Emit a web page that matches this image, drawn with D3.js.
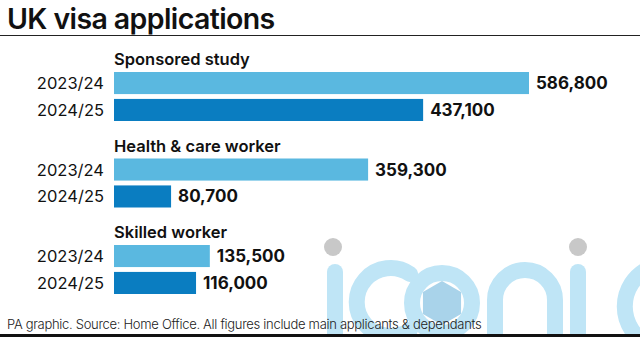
<!DOCTYPE html>
<html><head><meta charset="utf-8">
<script src="https://cdn.jsdelivr.net/npm/d3@7"></script>
<style>html,body{margin:0;padding:0;background:#fff}svg{display:block}</style>
</head><body>
<script>
const categories = ["Sponsored study", "Health & care worker", "Skilled worker"];
const years = ["2023/24", "2024/25"];
const values2023 = [586800, 359300, 135500];
const values2024 = [437100, 80700, 116000];
const title = "UK visa applications";
const footer = "PA graphic. Source: Home Office. All figures include main applicants & dependants";

const W = 640, H = 337;
const svg = d3.select("body").append("svg").attr("width", W).attr("height", H);
const font = "Inter, 'Liberation Sans', Arial, sans-serif";

// watermark (background)
const wm = svg.append("g").attr("fill", "none").attr("stroke", "#bfe5f6").attr("stroke-width", 16).attr("stroke-linecap", "round");
wm.append("line").attr("x1", 335).attr("x2", 335).attr("y1", 272).attr("y2", 345);
wm.append("path").attr("d", "M410,274 A34,34 0 1 0 410,330");
wm.append("circle").attr("cx", 442).attr("cy", 303).attr("r", 30);
wm.append("path").attr("d", d3.line()(d3.range(7).map(i => [442 + 22 * Math.cos(Math.PI / 3 * i + Math.PI / 6), 303 + 22 * Math.sin(Math.PI / 3 * i + Math.PI / 6)])))
  .attr("fill", "#a9d3ea").attr("stroke", "none");
wm.append("path").attr("d", "M495,345 L495,300 A30,30 0 0 1 555,300 L555,345");
wm.append("line").attr("x1", 578).attr("x2", 578).attr("y1", 272).attr("y2", 345);
wm.append("path").attr("d", "M650,268 A42,42 0 0 0 650,345");
svg.append("circle").attr("cx", 333).attr("cy", 247).attr("r", 9).attr("fill", "#c8c8c8");
svg.append("circle").attr("cx", 578).attr("cy", 247).attr("r", 9).attr("fill", "#c8c8c8");

// title
svg.append("text").attr("x", 7).attr("y", 29).attr("font-family", font).attr("font-weight", 600)
  .attr("font-size", 28.5).attr("fill", "#111").attr("letter-spacing", -0.6).text(title);
svg.append("line").attr("x1", 0).attr("x2", W).attr("y1", 35.5).attr("y2", 35.5).attr("stroke", "#222").attr("stroke-width", 1.2);

const x = d3.scaleLinear().domain([0, 586800]).range([114, 529]);
const yGroup = d3.scalePoint().domain(categories).range([72, 245]);
const yInner = d3.scaleBand().domain(years).range([0, 49]).paddingInner(0.18).paddingOuter(0);
const colors = d3.scaleOrdinal().domain(years).range(["#5ab8e0", "#0a7dc1"]);

const rows = [];
categories.forEach((c, i) => {
  rows.push({cat: c, year: years[0], v: values2023[i]});
  rows.push({cat: c, year: years[1], v: values2024[i]});
});

const g = svg.append("g").selectAll("g").data(categories).join("g")
  .attr("transform", d => `translate(0,${yGroup(d)})`);
g.append("text").attr("x", 114).attr("y", -7).attr("font-family", font).attr("font-weight", 600)
  .attr("font-size", 16.5).attr("fill", "#111").text(d => d);

const fmt = d3.format(",");
const r = svg.append("g").selectAll("g").data(rows).join("g")
  .attr("transform", d => `translate(0,${yGroup(d.cat) + yInner(d.year)})`);
r.append("rect").attr("x", x(0)).attr("width", d => x(d.v) - x(0)).attr("height", yInner.bandwidth())
  .attr("fill", d => colors(d.year));
r.append("text").attr("x", 104).attr("y", yInner.bandwidth() / 2 + 6).attr("text-anchor", "end")
  .attr("font-family", font).attr("font-size", 16.5).attr("fill", "#111").text(d => d.year);
r.append("text").attr("x", d => x(d.v) + 7).attr("y", yInner.bandwidth() / 2 + 6)
  .attr("font-family", font).attr("font-weight", 650).attr("font-size", 17).attr("fill", "#111").text(d => fmt(d.v));

// footer
svg.append("text").attr("x", 7).attr("y", 329).attr("font-family", font).attr("font-weight", 300)
  .attr("font-size", 13).attr("fill", "#222").attr("letter-spacing", -0.3).text(footer);
svg.append("rect").attr("x", 0).attr("y", 334).attr("width", W).attr("height", 3).attr("fill", "#111");
</script>
</body></html>
